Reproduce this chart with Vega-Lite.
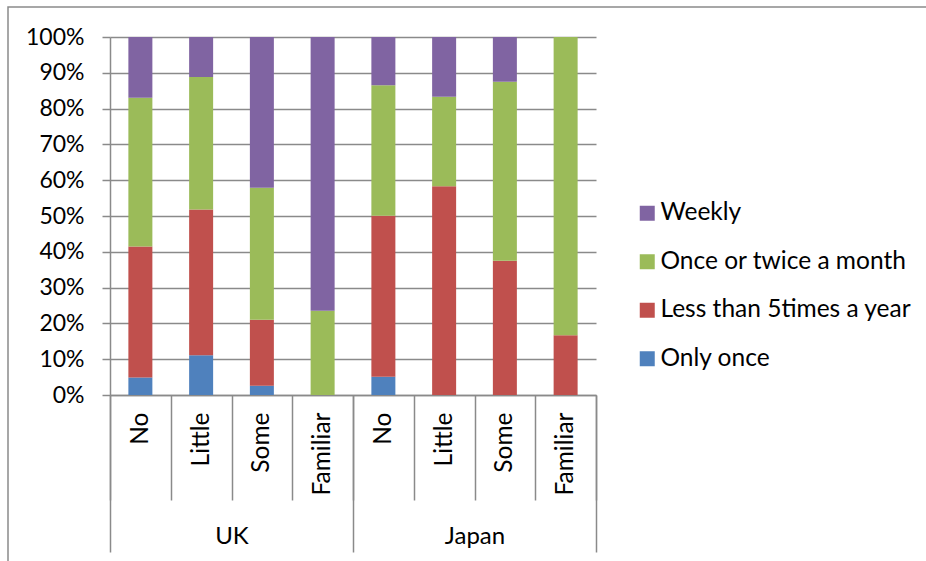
{
  "$schema": "https://vega.github.io/schema/vega-lite/v6.json",
  "width": 919,
  "height": 555,
  "autosize": "none",
  "padding": {"left": 8, "top": 7, "right": 0, "bottom": 0},
  "background": "white",
  "config": {
    "view": {"stroke": "#8a8a8a", "strokeWidth": 1.5},
    "font": "Lato"
  },
  "data": {
    "values": [
      {"country": "UK", "key": "UK-No", "freq": "Only once", "ord": 1, "value": 4.9},
      {"country": "UK", "key": "UK-No", "freq": "Less than 5times a year", "ord": 2, "value": 36.6},
      {"country": "UK", "key": "UK-No", "freq": "Once or twice a month", "ord": 3, "value": 41.5},
      {"country": "UK", "key": "UK-No", "freq": "Weekly", "ord": 4, "value": 17.0},
      {"country": "UK", "key": "UK-Little", "freq": "Only once", "ord": 1, "value": 11.1},
      {"country": "UK", "key": "UK-Little", "freq": "Less than 5times a year", "ord": 2, "value": 40.7},
      {"country": "UK", "key": "UK-Little", "freq": "Once or twice a month", "ord": 3, "value": 37.0},
      {"country": "UK", "key": "UK-Little", "freq": "Weekly", "ord": 4, "value": 11.2},
      {"country": "UK", "key": "UK-Some", "freq": "Only once", "ord": 1, "value": 2.6},
      {"country": "UK", "key": "UK-Some", "freq": "Less than 5times a year", "ord": 2, "value": 18.4},
      {"country": "UK", "key": "UK-Some", "freq": "Once or twice a month", "ord": 3, "value": 36.9},
      {"country": "UK", "key": "UK-Some", "freq": "Weekly", "ord": 4, "value": 42.1},
      {"country": "UK", "key": "UK-Familiar", "freq": "Only once", "ord": 1, "value": 0},
      {"country": "UK", "key": "UK-Familiar", "freq": "Less than 5times a year", "ord": 2, "value": 0},
      {"country": "UK", "key": "UK-Familiar", "freq": "Once or twice a month", "ord": 3, "value": 23.5},
      {"country": "UK", "key": "UK-Familiar", "freq": "Weekly", "ord": 4, "value": 76.5},
      {"country": "Japan", "key": "Japan-No", "freq": "Only once", "ord": 1, "value": 5.1},
      {"country": "Japan", "key": "Japan-No", "freq": "Less than 5times a year", "ord": 2, "value": 45.0},
      {"country": "Japan", "key": "Japan-No", "freq": "Once or twice a month", "ord": 3, "value": 36.4},
      {"country": "Japan", "key": "Japan-No", "freq": "Weekly", "ord": 4, "value": 13.5},
      {"country": "Japan", "key": "Japan-Little", "freq": "Only once", "ord": 1, "value": 0},
      {"country": "Japan", "key": "Japan-Little", "freq": "Less than 5times a year", "ord": 2, "value": 58.3},
      {"country": "Japan", "key": "Japan-Little", "freq": "Once or twice a month", "ord": 3, "value": 25.0},
      {"country": "Japan", "key": "Japan-Little", "freq": "Weekly", "ord": 4, "value": 16.7},
      {"country": "Japan", "key": "Japan-Some", "freq": "Only once", "ord": 1, "value": 0},
      {"country": "Japan", "key": "Japan-Some", "freq": "Less than 5times a year", "ord": 2, "value": 37.5},
      {"country": "Japan", "key": "Japan-Some", "freq": "Once or twice a month", "ord": 3, "value": 50.0},
      {"country": "Japan", "key": "Japan-Some", "freq": "Weekly", "ord": 4, "value": 12.5},
      {"country": "Japan", "key": "Japan-Familiar", "freq": "Only once", "ord": 1, "value": 0},
      {"country": "Japan", "key": "Japan-Familiar", "freq": "Less than 5times a year", "ord": 2, "value": 16.7},
      {"country": "Japan", "key": "Japan-Familiar", "freq": "Once or twice a month", "ord": 3, "value": 83.3},
      {"country": "Japan", "key": "Japan-Familiar", "freq": "Weekly", "ord": 4, "value": 0}
    ]
  },
  "layer": [
    {
      "mark": {"type": "bar", "width": 24},
      "encoding": {
        "x": {
          "field": "key", "type": "nominal", "sort": null,
          "scale": {"range": [102, 588], "paddingInner": 0, "paddingOuter": 0},
          "axis": {
            "orient": "bottom", "offset": -167, "title": null,
            "tickBand": "extent", "tickSize": 105, "tickColor": "#8a8a8a", "tickWidth": 1.5,
            "domainColor": "#8a8a8a", "domainWidth": 1.5,
            "labelAngle": -90, "labelPadding": -88, "labelFontSize": 24.5, "labelColor": "#000",
            "labelFont": "Lato", "labelExpr": "split(datum.value,'-')[1]", "grid": false
          }
        },
        "y": {
          "field": "value", "type": "quantitative", "stack": "normalize",
          "scale": {"domain": [0, 1], "range": [388, 30], "nice": false},
          "axis": {
            "orient": "left", "offset": -102, "title": null,
            "values": [0, 0.1, 0.2, 0.3, 0.4, 0.5, 0.6, 0.7, 0.8, 0.9, 1],
            "format": ".0%", "grid": true, "gridColor": "#8a8a8a", "gridWidth": 1.5,
            "domainColor": "#8a8a8a", "domainWidth": 1.5,
            "tickColor": "#8a8a8a", "tickSize": 8, "tickWidth": 1.5,
            "labelFontSize": 23, "labelColor": "#000", "labelPadding": 18, "labelFont": "Lato"
          }
        },
        "color": {
          "field": "freq", "type": "nominal",
          "scale": {
            "domain": ["Weekly", "Once or twice a month", "Less than 5times a year", "Only once"],
            "range": ["#8064A2", "#9BBB59", "#C0504D", "#4F81BD"]
          },
          "legend": {
            "title": null, "orient": "none", "legendX": 627, "legendY": 194,
            "symbolType": "square", "symbolSize": 225, "symbolStrokeWidth": 0,
            "labelFontSize": 24.5, "labelColor": "#000", "labelFont": "Lato",
            "rowPadding": 23.5, "labelOffset": 1, "labelLimit": 400, "padding": 0
          }
        },
        "order": {"field": "ord", "type": "quantitative"}
      }
    },
    {
      "mark": {"type": "point", "opacity": 0},
      "encoding": {
        "x": {
          "field": "country", "type": "nominal", "sort": ["UK", "Japan"],
          "scale": {"range": [102, 588], "paddingInner": 0, "paddingOuter": 0},
          "axis": {
            "orient": "bottom", "offset": -167, "title": null,
            "tickBand": "extent", "tickSize": 157, "tickColor": "#8a8a8a", "tickWidth": 1.5,
            "domain": false, "labelAngle": 0, "labelPadding": -28,
            "labelFontSize": 24, "labelColor": "#000", "labelFont": "Lato", "grid": false
          }
        }
      }
    }
  ],
  "resolve": {"scale": {"x": "independent"}, "axis": {"x": "independent"}}
}
